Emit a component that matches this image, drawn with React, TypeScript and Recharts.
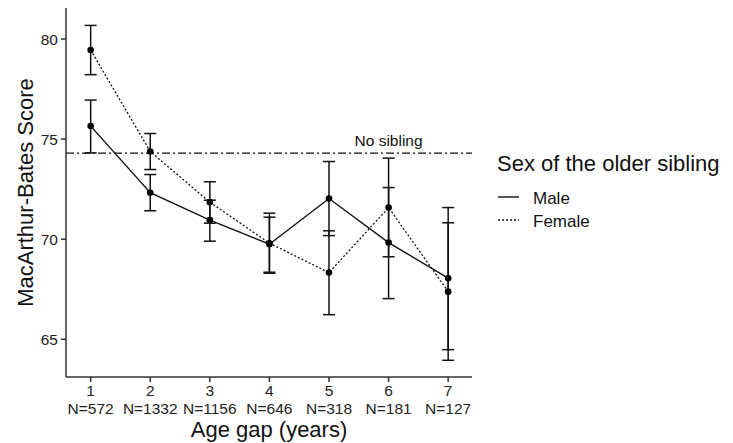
import React from 'react';
import {
  ComposedChart,
  Line,
  XAxis,
  YAxis,
  ErrorBar,
  ReferenceLine,
  ReferenceDot,
  Legend,
} from 'recharts';

const ageGaps = [1, 2, 3, 4, 5, 6, 7];
const sampleSizes = ['N=572', 'N=1332', 'N=1156', 'N=646', 'N=318', 'N=181', 'N=127'];
const yTicks = [65, 70, 75, 80];

const maleMean = [75.65, 72.32, 70.95, 69.75, 72.03, 69.83, 68.05];
const maleLow = [74.31, 71.42, 69.9, 68.35, 70.18, 67.03, 64.48];
const maleHigh = [76.95, 73.23, 71.95, 71.1, 73.88, 72.58, 71.58];

const femaleMean = [79.45, 74.38, 71.85, 69.8, 68.33, 71.58, 67.38];
const femaleLow = [78.22, 73.48, 70.8, 68.3, 66.23, 69.12, 63.95];
const femaleHigh = [80.68, 75.28, 72.87, 71.3, 70.42, 74.05, 70.82];

const noSiblingScore = 74.3;
const noSiblingLabelAt = 6;

const data = ageGaps.map((gap, i) => ({
  gap,
  male: maleMean[i],
  maleErr: [maleMean[i] - maleLow[i], maleHigh[i] - maleMean[i]],
  female: femaleMean[i],
  femaleErr: [femaleMean[i] - femaleLow[i], femaleHigh[i] - femaleMean[i]],
}));

const FONT = '"Liberation Sans", Arial, sans-serif';
const INK = '#111';

const XTick = (props: any) => {
  const { x, y, payload } = props;
  const i = ageGaps.indexOf(payload.value);
  return (
    <g>
      <text x={x} y={y + 12} textAnchor="middle" fontSize={15.5} fill="#222" fontFamily={FONT}>
        {payload.value}
      </text>
      <text x={x} y={y + 30} textAnchor="middle" fontSize={15.5} fill="#222" fontFamily={FONT}>
        {sampleSizes[i]}
      </text>
    </g>
  );
};

const YLabel = (props: any) => {
  const vb = props.viewBox || {};
  const cx = (vb.x || 0) + 25;
  const cy = (vb.y || 0) + (vb.height || 0) / 2;
  return (
    <text
      x={cx}
      y={cy}
      transform={`rotate(-90, ${cx}, ${cy})`}
      textAnchor="middle"
      dominantBaseline="central"
      fontSize={22}
      fill={INK}
      fontFamily={FONT}
    >
      MacArthur-Bates Score
    </text>
  );
};

const XLabel = (props: any) => {
  const vb = props.viewBox || {};
  const cx = (vb.x || 0) + (vb.width || 0) / 2;
  const top = vb.y || 0;
  return (
    <text x={cx} y={top + 60} textAnchor="middle" fontSize={22} fill={INK} fontFamily={FONT}>
      Age gap (years)
    </text>
  );
};

const LegendContent = () => (
  <svg width={240} height={90} style={{ display: 'block', overflow: 'visible' }}>
    <text x={7} y={26} fontSize={22} fill={INK} fontFamily={FONT}>
      Sex of the older sibling
    </text>
    <line x1={8} x2={29} y1={52} y2={52} stroke={INK} strokeWidth={1.4} />
    <text x={43} y={58.5} fontSize={17} fill={INK} fontFamily={FONT}>
      Male
    </text>
    <line x1={8} x2={29} y1={75} y2={75} stroke={INK} strokeWidth={1.3} strokeDasharray="2 2" />
    <text x={43} y={82} fontSize={17} fill={INK} fontFamily={FONT}>
      Female
    </text>
  </svg>
);

export default function App() {
  return (
    <div style={{ position: 'absolute', left: 0, top: 0, width: 733, height: 443, background: '#fff' }}>
      <ComposedChart
        width={733}
        height={443}
        data={data}
        margin={{ top: 8, right: 21, bottom: 0, left: 0 }}
      >
        <XAxis
          dataKey="gap"
          type="number"
          domain={[0.586, 7.4]}
          ticks={ageGaps}
          allowDataOverflow
          height={66}
          stroke="#333"
          strokeWidth={1.5}
          tickSize={5}
          tickMargin={2}
          tick={<XTick />}
          label={<XLabel />}
        />
        <YAxis
          type="number"
          domain={[63.115, 81.55]}
          ticks={yTicks}
          allowDataOverflow
          width={66}
          stroke="#333"
          strokeWidth={1.5}
          tickSize={5}
          tickMargin={3}
          tick={{ fontSize: 15.5, fill: '#222', fontFamily: FONT }}
          label={<YLabel />}
        />
        <ReferenceLine
          y={noSiblingScore}
          stroke={INK}
          strokeWidth={1.3}
          strokeDasharray="8 3 2 3"
        />
        <ReferenceDot
          x={noSiblingLabelAt}
          y={noSiblingScore}
          r={0}
          fill="none"
          stroke="none"
          label={{ value: 'No sibling', position: 'top', offset: 7, fontSize: 15.5, fill: INK, fontFamily: FONT }}
        />
        <Line
          dataKey="male"
          name="Male"
          stroke={INK}
          strokeWidth={1.4}
          dot={{ r: 3.3, fill: '#000', stroke: 'none' }}
          isAnimationActive={false}
        >
          <ErrorBar dataKey="maleErr" direction="y" width={6} stroke={INK} strokeWidth={1.5} />
        </Line>
        <Line
          dataKey="female"
          name="Female"
          stroke={INK}
          strokeWidth={1.3}
          strokeDasharray="2 2"
          dot={{ r: 3.3, fill: '#000', stroke: 'none', strokeDasharray: '0' }}
          isAnimationActive={false}
        >
          <ErrorBar dataKey="femaleErr" direction="y" width={6} stroke={INK} strokeWidth={1.5} />
        </Line>
        <Legend
          layout="vertical"
          align="right"
          verticalAlign="top"
          width={240}
          wrapperStyle={{ left: 490, top: 145 }}
          content={<LegendContent />}
        />
      </ComposedChart>
    </div>
  );
}
